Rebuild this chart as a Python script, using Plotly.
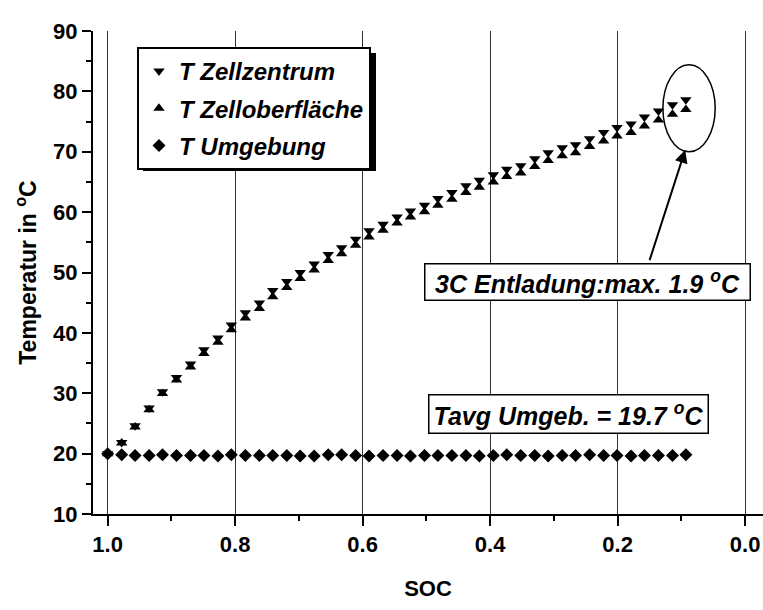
import plotly.graph_objects as go

# ---- data ----
soc = [1.0, 0.978, 0.957, 0.935, 0.914, 0.892, 0.870, 0.849, 0.827, 0.806,
       0.784, 0.762, 0.741, 0.719, 0.698, 0.676, 0.654, 0.633, 0.611, 0.590,
       0.568, 0.546, 0.525, 0.503, 0.482, 0.460, 0.438, 0.417, 0.395, 0.374,
       0.352, 0.330, 0.309, 0.287, 0.266, 0.244, 0.222, 0.201, 0.179, 0.158,
       0.136, 0.114, 0.093]

t_zellzentrum = [20.0, 21.85, 24.6, 27.55, 30.25, 32.6, 34.85, 37.2, 39.15, 41.3,
                 43.35, 44.95, 47.0, 48.5, 50.0, 51.4, 53.0, 54.1, 55.5, 56.9,
                 58.0, 59.2, 60.2, 61.15, 62.25, 63.25, 64.35, 65.3, 66.2, 67.1,
                 67.7, 68.85, 69.85, 70.65, 71.15, 72.15, 73.2, 74.0, 74.6, 75.75,
                 76.75, 77.8, 78.6]

t_zelloberflaeche = [20.0, 21.75, 24.4, 27.25, 29.95, 32.2, 34.35, 36.6, 38.45, 40.5,
                     42.45, 44.05, 46.0, 47.5, 49.0, 50.4, 52.0, 53.1, 54.5, 55.9,
                     57.0, 58.2, 59.2, 60.05, 61.15, 62.15, 63.25, 64.1, 65.0, 65.9,
                     66.5, 67.55, 68.55, 69.35, 69.85, 70.85, 71.8, 72.6, 73.2, 74.25,
                     75.25, 76.2, 77.0]

t_umgebung = [20.0, 19.8, 19.7, 19.7, 19.8, 19.7, 19.7, 19.7, 19.6, 19.8,
              19.7, 19.7, 19.7, 19.7, 19.6, 19.6, 19.8, 19.8, 19.7, 19.6,
              19.7, 19.7, 19.6, 19.7, 19.7, 19.7, 19.7, 19.6, 19.7, 19.8,
              19.7, 19.7, 19.6, 19.7, 19.7, 19.8, 19.7, 19.7, 19.6, 19.7,
              19.7, 19.7, 19.8]

x_ticks = [1.0, 0.8, 0.6, 0.4, 0.2, 0.0]
y_ticks = [10, 20, 30, 40, 50, 60, 70, 80, 90]
y_grid = [20, 30, 40, 50, 60, 70, 80]

FONT = "Liberation Sans, Arial, sans-serif"

fig = go.Figure()
fig.add_trace(go.Scatter(x=soc, y=t_zellzentrum, mode="markers", name="T Zellzentrum",
                         legendgroup="a",
                         marker=dict(symbol="triangle-down", size=10, color="black")))
fig.add_trace(go.Scatter(x=soc, y=t_zelloberflaeche, mode="markers", name="T Zelloberfläche",
                         legendgroup="b",
                         marker=dict(symbol="triangle-up", size=10, color="black")))
fig.add_trace(go.Scatter(x=soc, y=t_umgebung, mode="markers", name="T Umgebung",
                         legendgroup="c",
                         marker=dict(symbol="diamond", size=10, color="black")))

fig.update_layout(
    width=763, height=610,
    margin=dict(l=93, r=0, t=31, b=96),
    paper_bgcolor="white", plot_bgcolor="white",
    font=dict(family=FONT, color="black"),
    showlegend=True,
    legend=dict(
        x=(137 - 93) / 670, y=(514 - 47) / 483, xanchor="left", yanchor="top",
        bgcolor="white", bordercolor="black", borderwidth=2,
        font=dict(family=FONT, size=24, weight="bold", style="italic", color="black"),
        tracegroupgap=3, traceorder="grouped",
    ),
    xaxis=dict(
        range=[1.023, -0.028], tickvals=x_ticks, ticktext=[f"{v:.1f}" for v in x_ticks],
        showgrid=True, gridcolor="#333", gridwidth=1,
        showline=True, linecolor="black", linewidth=2, zeroline=False,
        ticks="outside", ticklen=10, tickwidth=2, tickcolor="black",
        minor=dict(dtick=0.1, tick0=0, ticks="outside", ticklen=5, tickwidth=2,
                   tickcolor="black", showgrid=False),
        tickfont=dict(family=FONT, size=22, weight="bold"),
        title=dict(text="SOC", font=dict(family=FONT, size=22, weight="bold"), standoff=24),
    ),
    yaxis=dict(
        range=[10, 90], tickvals=y_ticks,
        showgrid=False, showline=True, linecolor="black", linewidth=2, zeroline=False,
        ticks="outside", ticklen=9, tickwidth=2, tickcolor="black",
        minor=dict(dtick=5, tick0=0, ticks="outside", ticklen=5, tickwidth=2,
                   tickcolor="black", showgrid=False),
        tickfont=dict(family=FONT, size=22, weight="bold"),
        title=dict(text="Temperatur in <sup>o</sup>C",
                   font=dict(family=FONT, size=23, weight="bold"), standoff=10),
    ),
    yaxis2=dict(
        overlaying="y", range=[10, 90], tickvals=y_grid, showticklabels=False,
        ticks="", showgrid=True, gridcolor="#333", gridwidth=1, showline=False,
        zeroline=False, side="left",
    ),
)

# arrow, ellipse and text boxes
fig.add_annotation(x=0.094, y=70.3, ax=0.1506, ay=51.8, xref="x", yref="y",
                   axref="x", ayref="y", text="", showarrow=True,
                   arrowhead=2, arrowsize=1.3, arrowwidth=2, arrowcolor="black")
fig.add_shape(type="circle", xref="x", yref="y", x0=0.129, x1=0.047, y0=70.0, y1=84.4,
              line=dict(color="black", width=1.5))
fig.add_annotation(x=0.247, y=48.5, xref="x", yref="y", showarrow=False,
                   text="3C Entladung:max. 1.9 <sup>o</sup>C",
                   font=dict(family=FONT, size=25, weight="bold", style="italic", color="black"),
                   bgcolor="white", bordercolor="black", borderwidth=1.5,
                   width=322, height=33)
fig.add_annotation(x=0.277, y=26.6, xref="x", yref="y", showarrow=False,
                   text="Tavg Umgeb. = 19.7 <sup>o</sup>C",
                   font=dict(family=FONT, size=25, weight="bold", style="italic", color="black"),
                   bgcolor="white", bordercolor="black", borderwidth=1.5,
                   width=276, height=35)
# legend shadow
fig.add_shape(type="rect", xref="paper", yref="paper",
              x0=(143 - 93) / 670, x1=(376 - 93) / 670,
              y0=(514 - 171) / 483, y1=(514 - 53) / 483,
              fillcolor="black", line=dict(width=0), layer="above")

fig.write_html("out.html")
